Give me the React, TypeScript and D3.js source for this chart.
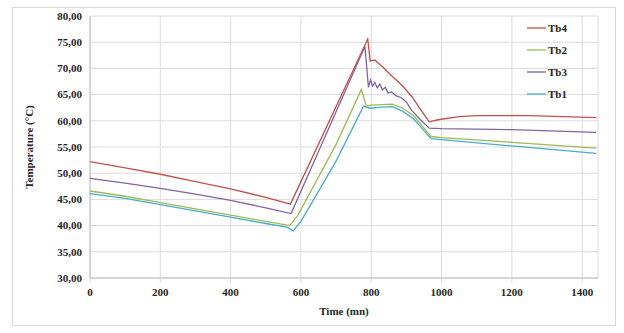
import React from "react";
import * as d3 from "d3";

const yTicks = [30, 35, 40, 45, 50, 55, 60, 65, 70, 75, 80];
const xTicks = [0, 200, 400, 600, 800, 1000, 1200, 1400];

const tb4Time = [0, 100, 200, 300, 400, 500, 570, 790, 797, 810, 832, 861, 890, 917, 940, 965, 990, 1050, 1100, 1250, 1440];
const tb4Vals = [52.2, 51.0, 49.8, 48.4, 47.0, 45.4, 44.1, 75.6, 71.4, 71.6, 70.3, 68.4, 66.6, 64.5, 62.2, 59.8, 60.2, 60.8, 61.0, 61.0, 60.6];

const tb3Time = [0, 100, 200, 300, 400, 500, 572, 782, 792, 798, 804, 810, 817, 824, 832, 840, 848, 858, 870, 885, 900, 915, 940, 965, 1000, 1200, 1440];
const tb3Vals = [49.0, 48.1, 47.1, 46.0, 44.8, 43.4, 42.3, 74.2, 66.4, 67.8, 66.6, 67.3, 66.3, 67.0, 65.9, 66.4, 65.3, 65.5, 64.8, 64.4, 63.6, 62.0, 60.2, 58.6, 58.5, 58.3, 57.8];

const tb2Time = [0, 100, 200, 300, 400, 500, 568, 590, 700, 772, 786, 800, 830, 860, 890, 920, 945, 970, 1000, 1200, 1440];
const tb2Vals = [46.6, 45.6, 44.4, 43.2, 42.0, 40.8, 40.0, 41.8, 55.5, 66.0, 62.8, 63.0, 63.1, 63.2, 62.4, 61.0, 59.0, 57.0, 56.8, 55.9, 54.8];

const tb1Time = [0, 100, 200, 300, 400, 500, 560, 578, 600, 700, 778, 795, 830, 860, 890, 920, 945, 970, 1000, 1200, 1440];
const tb1Vals = [46.1, 45.2, 44.0, 42.8, 41.6, 40.4, 39.7, 39.0, 40.8, 52.3, 62.8, 62.4, 62.6, 62.7, 61.8, 60.4, 58.5, 56.6, 56.4, 55.2, 53.8];

const seriesNames = ["Tb4", "Tb2", "Tb3", "Tb1"];
const seriesColors = ["#c0504d", "#9bbb59", "#8064a2", "#4bacc6"];
const seriesTimes = [tb4Time, tb2Time, tb3Time, tb1Time];
const seriesVals = [tb4Vals, tb2Vals, tb3Vals, tb1Vals];

export default function App() {
  const W = 624, H = 333;
  const x = d3.scaleLinear().domain([0, 1445]).range([90, 598]);
  const y = d3.scaleLinear().domain([30, 80]).range([278, 16]);
  const line = d3
    .line<[number, number]>()
    .x((d) => x(d[0]))
    .y((d) => y(d[1]));
  const font = "'Liberation Serif', 'Times New Roman', serif";
  const fmt = (v: number) => v.toFixed(2).replace(".", ",");
  const drawOrder = [3, 1, 2, 0];
  return (
    <svg width={W} height={H} style={{ position: "absolute", left: 0, top: 0 }} fontFamily={font}>
      <rect x={0} y={0} width={W} height={H} fill="#fff" />
      <rect x={12.5} y={7.5} width={603} height={318} fill="#fff" stroke="#d9d9d9" />
      {yTicks.map((t) => (
        <line key={"gy" + t} x1={x(0)} x2={598} y1={y(t)} y2={y(t)} stroke="#dcdcdc" strokeWidth={1} />
      ))}
      {xTicks.map((t) => (
        <line key={"gx" + t} x1={x(t)} x2={x(t)} y1={y(80)} y2={y(30) + 5} stroke="#dcdcdc" strokeWidth={1} />
      ))}
      <line x1={598} x2={598} y1={y(80)} y2={y(30)} stroke="#dcdcdc" />
      <line x1={x(0)} x2={x(0)} y1={y(80)} y2={y(30)} stroke="#bfbfbf" />
      <line x1={x(0)} x2={598} y1={y(30)} y2={y(30)} stroke="#bfbfbf" />
      {yTicks.map((t) => (
        <text key={"ty" + t} x={x(0) - 8} y={y(t)} dy="0.35em" textAnchor="end" fontSize={11} fontWeight="bold" fill="#262626">
          {fmt(t)}
        </text>
      ))}
      {xTicks.map((t) => (
        <text key={"tx" + t} x={x(t)} y={y(30) + 18} textAnchor="middle" fontSize={11} fontWeight="bold" fill="#262626">
          {t}
        </text>
      ))}
      <text x={344} y={315} textAnchor="middle" fontSize={11} fontWeight="bold" fill="#262626">
        Time (mn)
      </text>
      <text transform={`translate(33,${(y(30) + y(80)) / 2}) rotate(-90)`} textAnchor="middle" fontSize={11} fontWeight="bold" fill="#262626">
        Temperature (°C)
      </text>
      {drawOrder.map((i) => (
        <path
          key={seriesNames[i]}
          d={line(seriesTimes[i].map((t, k) => [t, seriesVals[i][k]] as [number, number])) || ""}
          fill="none"
          stroke={seriesColors[i]}
          strokeWidth={1.3}
        />
      ))}
      {seriesNames.map((n, i) => (
        <g key={"lg" + n} transform={`translate(527,${28 + i * 22})`}>
          <line x1={0} x2={19} y1={0} y2={0} stroke={seriesColors[i]} strokeWidth={1.3} />
          <text x={21} y={0} dy="0.35em" fontSize={11} fontWeight="bold" fill="#262626">
            {n}
          </text>
        </g>
      ))}
    </svg>
  );
}
